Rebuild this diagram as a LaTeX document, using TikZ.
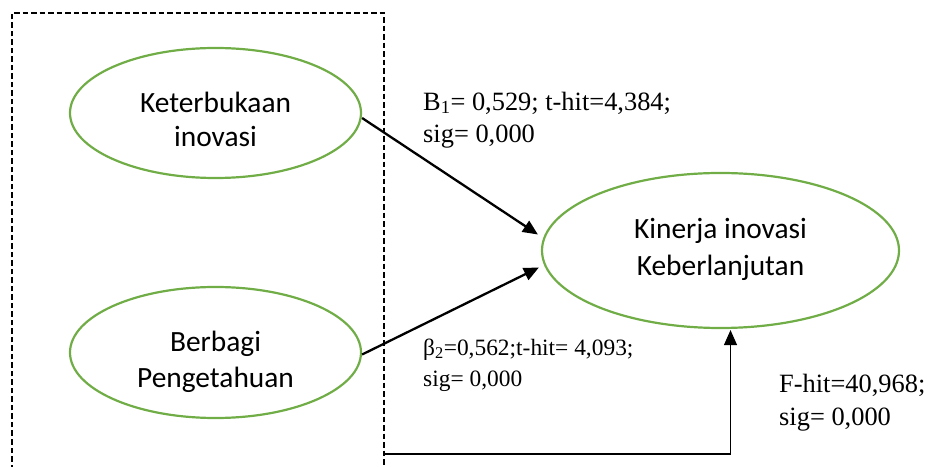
\documentclass[tikz,border=0pt]{standalone}
\usepackage{fontspec}
\setmainfont{Liberation Serif}
\newfontfamily\calibri{Carlito}
\usetikzlibrary{shapes.geometric,arrows.meta,calc}
\definecolor{ogreen}{HTML}{70AD47}
\tikzset{
  construct/.style={ellipse, draw=ogreen, line width=2.2bp, inner sep=0pt},
  ctext/.style={inner sep=0pt, align=center},
  stat/.style={anchor=base west, inner sep=0pt, align=left},
  path/.style={line width=2.3bp, -{Triangle[length=15bp,width=13bp]}},
  ftest/.style={line width=1.2bp, -{Triangle[length=15bp,width=13bp]}},
  groupbox/.style={line width=1.8bp, dash pattern=on 5.5bp off 3bp}
}
\begin{document}
\begin{tikzpicture}[x=1bp,y=-1bp]
\useasboundingbox (0,0) rectangle (936,467);
% group box (open at the bottom)
\draw[groupbox] (12,470) -- (12,13) -- (384,13) -- (384,470);
% constructs
\node[construct, minimum width=291bp, minimum height=130bp] (k1) at (215.5,113) {};
\node[construct, minimum width=291bp, minimum height=131bp] (k2) at (215.5,352.5) {};
\node[construct, minimum width=357bp, minimum height=155bp] (k3) at (720.5,250.5) {};
\node[ctext, font=\calibri\fontsize{29.5}{34}\selectfont] (t1) at ([yshift=-6bp]k1.center) {Keterbukaan\\inovasi};
\node[ctext, font=\calibri\fontsize{29.5}{36}\selectfont] (t2) at ([yshift=-9bp]k2.center) {Berbagi\\Pengetahuan};
\node[ctext, font=\calibri\fontsize{29.5}{37.5}\selectfont] (t3) at ([yshift=1bp]k3.center) {Kinerja inovasi\\Keberlanjutan};
% paths
\draw[path] ([yshift=-5bp]k1.east) -- ([xshift=-3bp,yshift=16bp]k3.west);
\draw[path] ([yshift=-2bp]k2.east) -- ([xshift=-2bp,yshift=-17bp]k3.west);
\coordinate (fstart) at (384,454);
\coordinate (fend) at ([xshift=10bp,yshift=-1bp]k3.south);
\draw[ftest] (fstart) -| (fend);
% labels (base anchor = baseline of the last line)
\node[stat, font=\fontsize{26.5}{33}\selectfont] (l1) at (423,143) {B\textsubscript{1}= 0,529; t-hit=4,384;\\sig= 0,000};
\node[stat, font=\fontsize{23.5}{32}\selectfont] (l2) at (423,387) {β\textsubscript{2}=0,562;t-hit= 4,093;\\sig= 0,000};
\node[stat, font=\fontsize{26.5}{33}\selectfont] (l3) at (779,425) {F-hit=40,968;\\sig= 0,000};
\end{tikzpicture}
\end{document}
